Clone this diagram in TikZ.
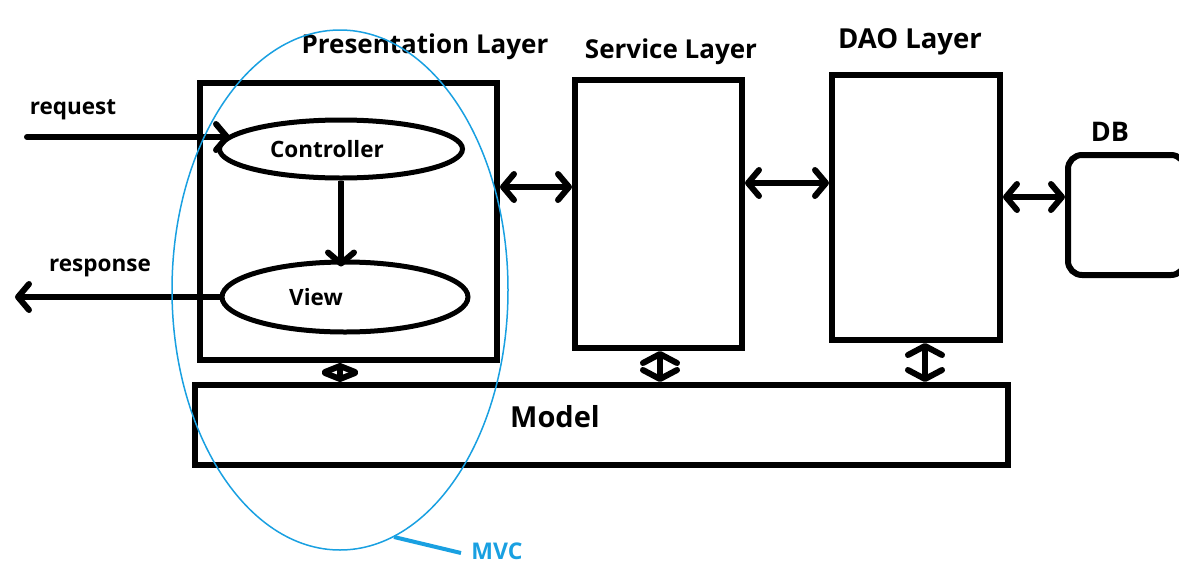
\documentclass[tikz,border=0pt]{standalone}
\usepackage{fontspec}
\setmainfont{Open Sans}
\usetikzlibrary{arrows.meta,calc,shapes.geometric}
\definecolor{mvcblue}{RGB}{25,160,225}
\begin{document}
\begin{tikzpicture}[x=1pt,y=-1pt,
  thick line/.style={line width=6pt},
  boxnode/.style={draw,line width=6pt,inner sep=0pt},
  ellnode/.style={draw,line width=5pt,ellipse,inner sep=0pt},
  lbl/.style={font=\bfseries\fontsize{22.5}{26}\selectfont,inner sep=0pt},
  title/.style={font=\bfseries\fontsize{26}{30}\selectfont,inner sep=0pt},
  barb/.style={-{Straight Barb[length=11pt,width=26pt,line width=6pt,round]}},
  dbarb/.style={{Straight Barb[length=11pt,width=26pt,line width=6pt,round]}-{Straight Barb[length=11pt,width=26pt,line width=6pt,round]}},
  sbarb/.style={{Straight Barb[length=6pt,width=30pt,line width=6pt,round]}-{Straight Barb[length=6pt,width=30pt,line width=6pt,round]}},
  mbarb/.style={{Straight Barb[length=9pt,width=34pt,line width=6pt,round]}-{Straight Barb[length=9pt,width=34pt,line width=6pt,round]}}
]
\useasboundingbox (0,0) rectangle (1179,563);

% boxes
\node[boxnode,minimum width=297pt,minimum height=277pt] (pres) at (348.5,221.5) {};
\node[boxnode,minimum width=167pt,minimum height=268pt] (serv) at (658.5,214) {};
\node[boxnode,minimum width=168pt,minimum height=265pt] (dao) at (916,207.5) {};
\node[boxnode,rounded corners=14pt,minimum width=117pt,minimum height=120pt] (db) at (1126.5,215) {};
\node[boxnode,minimum width=813pt,minimum height=80pt] (model) at (601.5,425) {};

% ellipses
\node[ellnode,minimum width=243pt,minimum height=58pt] (ctrl) at (341,149) {};
\node[ellnode,minimum width=246pt,minimum height=70pt] (view) at (345,297) {};

% labels
\node[lbl] (ctrltxt) at (327,149) {Controller};
\node[lbl] (viewtxt) at (316,297) {View};
\node[title] (presl) at (425,47) {Presentation Layer};
\node[title] (servl) at (671,52) {Service Layer};
\node[font=\bfseries\fontsize{27.5}{30}\selectfont,inner sep=0pt] (daol) at (910,42) {DAO Layer};
\node[font=\bfseries\fontsize{27}{30}\selectfont,inner sep=0pt] (dbl) at (1110,132) {DB};
\node[font=\bfseries\fontsize{29}{32}\selectfont,inner sep=0pt] (modell) at (555,417) {Model};
\node[lbl] (reql) at (73,110) {request};
\node[lbl] (respl) at (100,268) {response};

% request / response
\coordinate (reqs) at (27,137);
\coordinate (reqe) at (230,137);
\draw[thick line,line cap=round,barb] (reqs) -- (reqe);
\coordinate (rese) at (15,297);
\draw[thick line,line cap=round,barb] (view.west) -- (rese);

% controller -> view
\draw[thick line,barb] (ctrl.south) -- ([yshift=-7pt]ctrl.south |- view.north);

% layer arrows
\draw[thick line,dbarb] (pres.east |- 0,187) -- (serv.west |- 0,187);
\draw[thick line,dbarb] (serv.east |- 0,183) -- (dao.west |- 0,183);
\draw[thick line,dbarb] (dao.east |- 0,197) -- (db.west |- 0,197);

% vertical double arrows to model
\draw[thick line,sbarb] (pres.south -| 340,0) -- (model.north -| 340,0);
\draw[thick line,mbarb] (serv.south -| 660,0) -- (model.north -| 660,0);
\draw[thick line,mbarb] (dao.south -| 925,0) -- (model.north -| 925,0);

% MVC ellipse
\draw[mvcblue,line width=1.5pt] (340,290) ellipse [x radius=168, y radius=260];
\coordinate (mvcs) at (394,537);
\coordinate (mvce) at (461,553);
\draw[mvcblue,line width=4pt] (mvcs) -- (mvce);
\node[font=\bfseries\fontsize{23}{26}\selectfont,text=mvcblue,inner sep=0pt] (mvcl) at (497,551) {MVC};
\end{tikzpicture}
\end{document}
